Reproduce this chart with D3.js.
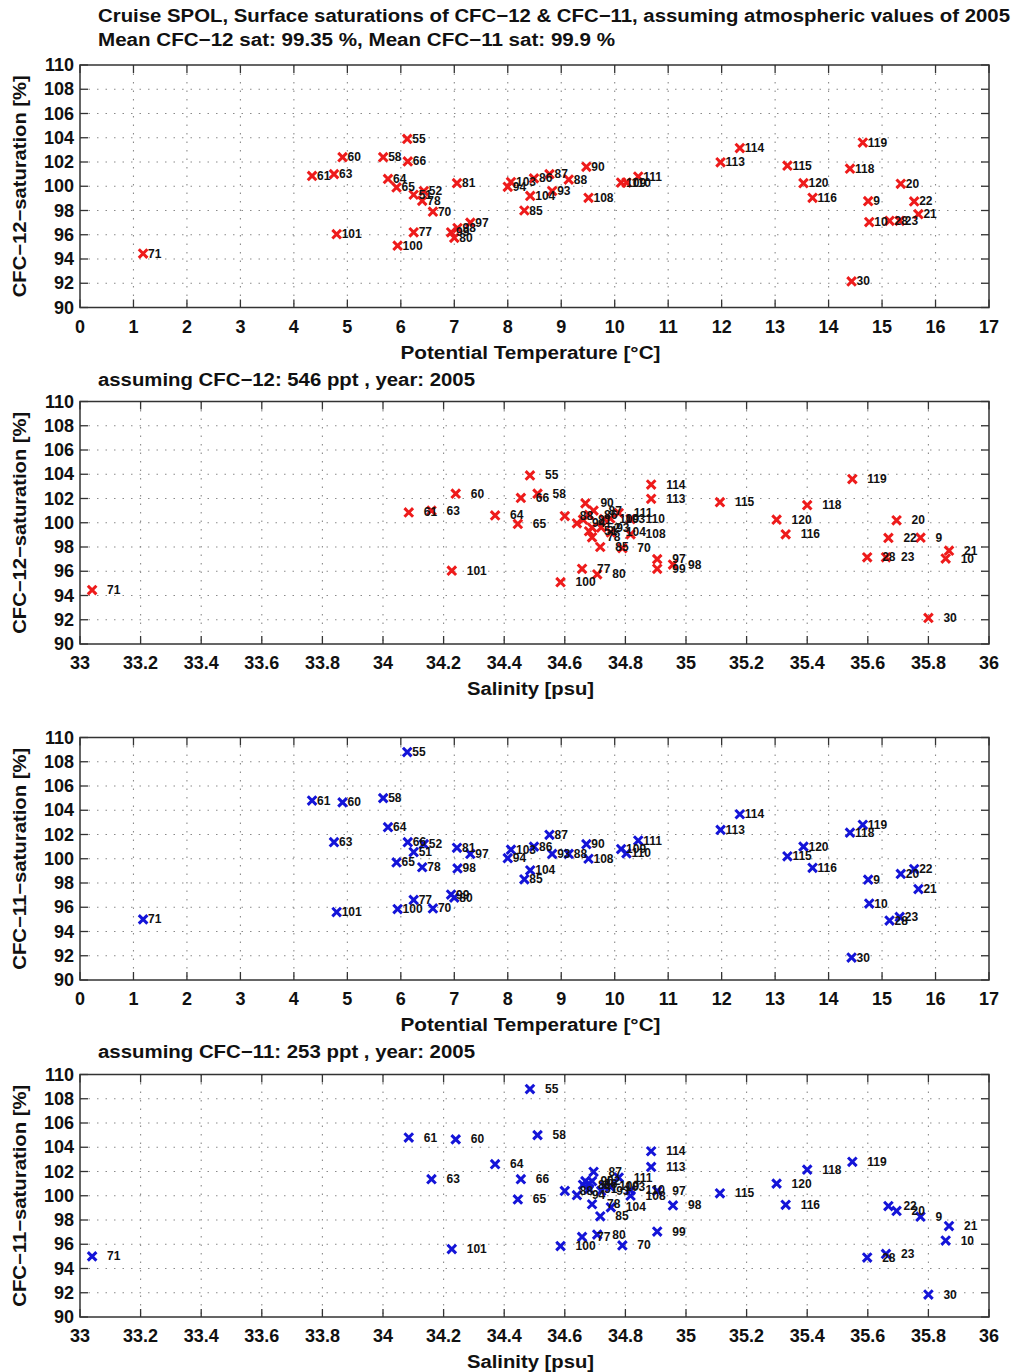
<!DOCTYPE html>
<html>
<head>
<meta charset="utf-8">
<title>Cruise SPOL surface saturations</title>
<script src="https://cdnjs.cloudflare.com/ajax/libs/d3/7.8.5/d3.min.js"></script>
<style>
  body { margin: 0; padding: 0; background: #fff; }
  svg { display: block; }
  text { font-family: "Liberation Sans", Arial, Helvetica, sans-serif; fill: #111; }
  .tick-label { font-size: 18px; font-weight: bold; }
  .title { font-size: 18px; font-weight: bold; }
  .axis-title { font-size: 18px; font-weight: bold; }
  .station { font-size: 12px; font-weight: bold; }
  .grid line { stroke: #8a8a8a; stroke-width: 1.1; stroke-dasharray: 1.5 7; }
  .frame { fill: none; stroke: #333; stroke-width: 1.5; }
  .tickmark { stroke: #333; stroke-width: 1.3; }
</style>
</head>
<body>
<script>
// station numbers and the values
var stations = [55, 60, 58, 66, 61, 63, 64, 65, 52, 51, 78, 70, 81, 97, 98, 99, 80, 101, 100, 77,
                71, 103, 94, 104, 85, 86, 87, 88, 93, 90, 108, 109, 110, 111, 114, 113, 115, 120, 116, 118,
                119, 9, 20, 22, 21, 10, 28, 23, 30];

var theta = [6.12, 4.91, 5.67, 6.13, 4.34, 4.75, 5.76, 5.92, 6.43, 6.24, 6.40, 6.60, 7.05, 7.30, 7.06, 6.94, 7.00, 4.80, 5.94, 6.24,
             1.18, 8.06, 8.00, 8.42, 8.31, 8.49, 8.78, 9.14, 8.83, 9.47, 9.51, 10.12, 10.22, 10.44, 12.34, 11.98, 13.23, 13.53, 13.70, 14.40,
             14.64, 14.74, 15.35, 15.60, 15.68, 14.76, 15.14, 15.33, 14.43];

var salinity = [34.485, 34.24, 34.51, 34.455, 34.085, 34.16, 34.37, 34.445, 34.69, 34.68, 34.69, 34.79, 34.66, 34.905, 34.957, 34.905, 34.707, 34.227, 34.586, 34.657,
                33.04, 34.75, 34.64, 34.752, 34.717, 34.68, 34.695, 34.60, 34.72, 34.668, 34.817, 34.73, 34.817, 34.778, 34.885, 34.885, 35.112, 35.299, 35.329, 35.40,
                35.549, 35.774, 35.695, 35.668, 35.868, 35.857, 35.598, 35.66, 35.80];

var cfc12 = [103.9, 102.4, 102.4, 102.05, 100.85, 101.0, 100.6, 99.9, 99.6, 99.3, 98.8, 97.9, 100.25, 97.0, 96.55, 96.2, 95.75, 96.05, 95.1, 96.2,
             94.45, 100.35, 99.95, 99.2, 98.0, 100.65, 101.0, 100.55, 99.6, 101.6, 99.05, 100.3, 100.3, 100.8, 103.15, 101.97, 101.7, 100.25, 99.05, 101.45,
             103.6, 98.77, 100.2, 98.75, 97.7, 97.05, 97.15, 97.15, 92.15];

var cfc11 = [108.8, 104.65, 105.0, 101.37, 104.8, 101.37, 102.6, 99.7, 101.2, 100.55, 99.3, 95.9, 100.9, 100.4, 99.2, 97.05, 96.8, 95.6, 95.85, 96.6,
             95.0, 100.75, 100.05, 99.05, 98.3, 101.0, 101.97, 100.4, 100.4, 101.2, 100.0, 100.8, 100.45, 101.5, 103.67, 102.38, 100.2, 101.0, 99.25, 102.15,
             102.8, 98.27, 98.75, 99.15, 97.5, 96.3, 94.9, 95.2, 91.85];

var thetaTicks = d3.range(0, 18, 1);
var salinityTicks = d3.range(0, 16).map(function (i) { return 33 + i * 0.2; });
var satTicks = d3.range(90, 111, 2);

var titleLines = ["Cruise SPOL, Surface saturations of CFC\u221212 & CFC\u221211, assuming atmospheric values of 2005",
                  "Mean CFC\u221212 sat:  99.35 %, Mean CFC\u221211 sat: 99.9 %"];
var subTitles = ["assuming CFC\u221212: 546 ppt , year: 2005", "assuming CFC\u221211: 253 ppt , year: 2005"];

var width = 1014, height = 1372;
var left = 80, right = 989, plotH = 242.5;

var svg = d3.select("body").append("svg")
    .attr("width", width)
    .attr("height", height);

var panels = [
    { top: 65,    xs: theta,    dom: [0, 17],  ticks: thetaTicks,    ys: cfc12, color: "#ee1b1b", xlab: "Potential Temperature [\u00b0C]", xw: 260, ylab: "CFC\u221212\u2212saturation [%]", dx: 5 },
    { top: 401.5, xs: salinity, dom: [33, 36], ticks: salinityTicks, ys: cfc12, color: "#ee1b1b", xlab: "Salinity [psu]", xw: 127, ylab: "CFC\u221212\u2212saturation [%]", dx: 15 },
    { top: 737.5, xs: theta,    dom: [0, 17],  ticks: thetaTicks,    ys: cfc11, color: "#1414d8", xlab: "Potential Temperature [\u00b0C]", xw: 260, ylab: "CFC\u221211\u2212saturation [%]", dx: 5 },
    { top: 1074.5, xs: salinity, dom: [33, 36], ticks: salinityTicks, ys: cfc11, color: "#1414d8", xlab: "Salinity [psu]", xw: 127, ylab: "CFC\u221211\u2212saturation [%]", dx: 15 }
];

function fmt(v) {
    return (Math.round(v * 10) / 10).toString();
}

panels.forEach(function (p) {
    var x = d3.scaleLinear().domain(p.dom).range([left, right]);
    var y = d3.scaleLinear().domain([90, 110]).range([p.top + plotH, p.top]);
    var g = svg.append("g");

    // dotted grid
    var grid = g.append("g").attr("class", "grid");
    grid.selectAll(".gx").data(p.ticks.slice(1, -1)).enter().append("line")
        .attr("x1", function (d) { return x(d); }).attr("x2", function (d) { return x(d); })
        .attr("y1", y(110)).attr("y2", y(90));
    grid.selectAll(".gy").data(satTicks.slice(1, -1)).enter().append("line")
        .attr("x1", left).attr("x2", right)
        .attr("y1", function (d) { return y(d); }).attr("y2", function (d) { return y(d); });

    // tick marks on all sides, pointing in
    var tl = 8;
    var tk = g.append("g");
    p.ticks.forEach(function (d) {
        tk.append("line").attr("class", "tickmark").attr("x1", x(d)).attr("x2", x(d)).attr("y1", y(90)).attr("y2", y(90) - tl);
        tk.append("line").attr("class", "tickmark").attr("x1", x(d)).attr("x2", x(d)).attr("y1", y(110)).attr("y2", y(110) + tl);
    });
    satTicks.forEach(function (d) {
        tk.append("line").attr("class", "tickmark").attr("x1", left).attr("x2", left + tl).attr("y1", y(d)).attr("y2", y(d));
        tk.append("line").attr("class", "tickmark").attr("x1", right).attr("x2", right - tl).attr("y1", y(d)).attr("y2", y(d));
    });

    g.append("rect").attr("class", "frame")
        .attr("x", left).attr("y", p.top).attr("width", right - left).attr("height", plotH);

    // tick labels
    g.selectAll(".xl").data(p.ticks).enter().append("text")
        .attr("class", "tick-label")
        .attr("x", function (d) { return x(d); })
        .attr("y", y(90) + 25)
        .attr("text-anchor", "middle")
        .text(fmt);
    g.selectAll(".yl").data(satTicks).enter().append("text")
        .attr("class", "tick-label")
        .attr("x", left - 6)
        .attr("y", function (d) { return y(d) + 6; })
        .attr("text-anchor", "end")
        .text(fmt);

    // axis titles
    g.append("text").attr("class", "axis-title")
        .attr("x", (left + right) / 2 - 4 - p.xw / 2)
        .attr("y", y(90) + 51)
        .attr("textLength", p.xw).attr("lengthAdjust", "spacingAndGlyphs")
        .text(p.xlab);
    g.append("text").attr("class", "axis-title")
        .attr("transform", "translate(26," + (p.top + plotH / 2 + 111) + ") rotate(-90)")
        .attr("textLength", 222).attr("lengthAdjust", "spacingAndGlyphs")
        .text(p.ylab);

    // markers
    var pts = stations.map(function (s, i) { return { id: s, x: p.xs[i], y: p.ys[i] }; });
    g.selectAll(".pt").data(pts).enter().append("path")
        .attr("transform", function (d) { return "translate(" + x(d.x) + "," + y(d.y) + ")"; })
        .attr("d", "M-4.3,-4.3L4.3,4.3M-4.3,4.3L4.3,-4.3")
        .attr("stroke", p.color)
        .attr("stroke-width", 3)
        .attr("fill", "none");
    g.selectAll(".lb").data(pts).enter().append("text")
        .attr("class", "station")
        .attr("x", function (d) { return x(d.x) + p.dx; })
        .attr("y", function (d) { return y(d.y) + 4; })
        .text(function (d) { return d.id; });
});

// titles
svg.append("text").attr("class", "title").attr("x", 98).attr("y", 22)
    .attr("textLength", 912).attr("lengthAdjust", "spacingAndGlyphs").text(titleLines[0]);
svg.append("text").attr("class", "title").attr("x", 98).attr("y", 46)
    .attr("textLength", 517).attr("lengthAdjust", "spacingAndGlyphs").text(titleLines[1]);
svg.append("text").attr("class", "title").attr("x", 98).attr("y", 386)
    .attr("textLength", 377).attr("lengthAdjust", "spacingAndGlyphs").text(subTitles[0]);
svg.append("text").attr("class", "title").attr("x", 98).attr("y", 1058)
    .attr("textLength", 377).attr("lengthAdjust", "spacingAndGlyphs").text(subTitles[1]);
</script>
</body>
</html>
